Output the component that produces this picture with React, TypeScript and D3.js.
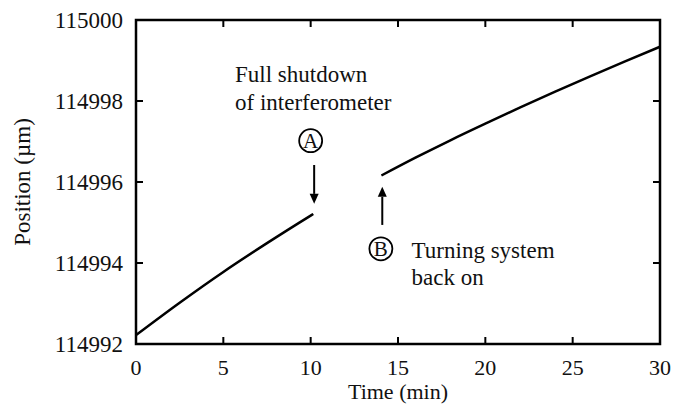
import * as d3 from "d3";
import React from "react";

// time (min) and position (µm)
const timeBefore = [0, 2.5, 5, 7.5, 10, 10.15];
const posBefore = [114992.22, 114993.02, 114993.78, 114994.49, 114995.17, 114995.21];
const timeAfter = [14.05, 16, 18, 20, 22, 24, 26, 28, 30];
const posAfter = [114996.16, 114996.6, 114997.03, 114997.44, 114997.84, 114998.23, 114998.61, 114998.98, 114999.34];

const xTicks = [0, 5, 10, 15, 20, 25, 30];
const yTicks = [114992, 114994, 114996, 114998, 115000];

const width = 684;
const height = 407;
const margin = { top: 20, right: 24, bottom: 63, left: 136 };
const font = '"Liberation Serif", "Times New Roman", Times, serif';

const App = () => {
    const xScale = d3.scaleLinear().domain([0, 30]).range([margin.left, width - margin.right]);
    const yScale = d3.scaleLinear().domain([114992, 115000]).range([height - margin.bottom, margin.top]);

    const lineBuilder = d3
        .line<[number, number]>()
        .x((d) => xScale(d[0]))
        .y((d) => yScale(d[1]))
        .curve(d3.curveMonotoneX);

    const seg1 = lineBuilder(timeBefore.map((t, i) => [t, posBefore[i]] as [number, number]));
    const seg2 = lineBuilder(timeAfter.map((t, i) => [t, posAfter[i]] as [number, number]));

    const x0 = xScale(0), x1 = xScale(30);
    const y0 = yScale(114992), y1 = yScale(115000);
    const tick = 7;

    // annotation anchors, in data units
    const arrowA = { x: 10.2, from: 114996.42, to: 114995.46 };
    const arrowB = { x: 14.1, from: 114994.94, to: 114995.88 };
    const circleA = { x: 10.0, y: 114997.02, label: "A" };
    const circleB = { x: 14.02, y: 114994.35, label: "B" };

    const arrow = (a, key) => {
        const x = xScale(a.x);
        const yf = yScale(a.from);
        const yt = yScale(a.to);
        const dir = yt > yf ? 1 : -1;
        const head = 10;
        return (
            <g key={key}>
                <line x1={x} x2={x} y1={yf} y2={yt - dir * head} stroke="#000" strokeWidth={2} />
                <path d={`M${x - 4.5},${yt - dir * head} L${x + 4.5},${yt - dir * head} L${x},${yt} Z`} fill="#000" />
            </g>
        );
    };

    const circled = (c, key) => (
        <g key={key}>
            <circle cx={xScale(c.x)} cy={yScale(c.y)} r={11.5} fill="none" stroke="#000" strokeWidth={1.8} />
            <text x={xScale(c.x)} y={yScale(c.y) + 7} textAnchor="middle" fontSize={21}>{c.label}</text>
        </g>
    );

    return (
        <div>
            <style>{"body{margin:0}"}</style>
            <svg width={width} height={height} style={{ display: "block", background: "#fff", fontFamily: font }} fill="#111">
                {/* frame */}
                <rect x={x0} y={y1} width={x1 - x0} height={y0 - y1} fill="none" stroke="#000" strokeWidth={2.5} />

                {/* inward ticks on all four sides */}
                {xTicks.slice(1, -1).map((t) => (
                    <g key={"xt" + t}>
                        <line x1={xScale(t)} x2={xScale(t)} y1={y0} y2={y0 - tick} stroke="#000" strokeWidth={2} />
                        <line x1={xScale(t)} x2={xScale(t)} y1={y1} y2={y1 + tick} stroke="#000" strokeWidth={2} />
                    </g>
                ))}
                {yTicks.slice(1, -1).map((t) => (
                    <g key={"yt" + t}>
                        <line x1={x0} x2={x0 + tick} y1={yScale(t)} y2={yScale(t)} stroke="#000" strokeWidth={2} />
                        <line x1={x1} x2={x1 - tick} y1={yScale(t)} y2={yScale(t)} stroke="#000" strokeWidth={2} />
                    </g>
                ))}

                {xTicks.map((t) => (
                    <text key={"xl" + t} x={xScale(t)} y={y0 + 31} textAnchor="middle" fontSize={22}>{t}</text>
                ))}
                {yTicks.map((t) => (
                    <text key={"yl" + t} x={x0 - 13} y={yScale(t) + 7.5} textAnchor="end" fontSize={23}>{t}</text>
                ))}

                <text x={(x0 + x1) / 2} y={y0 + 55} textAnchor="middle" fontSize={22}>Time (min)</text>
                <text transform={`translate(30,${(y0 + y1) / 2}) rotate(-90)`} textAnchor="middle" fontSize={23}>Position (µm)</text>

                {/* data */}
                <path d={seg1} stroke="#000" fill="none" strokeWidth={2.5} />
                <path d={seg2} stroke="#000" fill="none" strokeWidth={2.5} />

                {/* annotations */}
                <text x={xScale(5.67)} y={yScale(114998.47)} fontSize={23}>Full shutdown</text>
                <text x={xScale(5.67)} y={yScale(114997.78)} fontSize={23}>of interferometer</text>
                {circled(circleA, "ca")}
                {arrow(arrowA, "aa")}
                {arrow(arrowB, "ab")}
                {circled(circleB, "cb")}
                <text x={xScale(15.78)} y={yScale(114994.12)} fontSize={23}>Turning system</text>
                <text x={xScale(15.78)} y={yScale(114993.46)} fontSize={23}>back on</text>
            </svg>
        </div>
    );
};

export default App;
